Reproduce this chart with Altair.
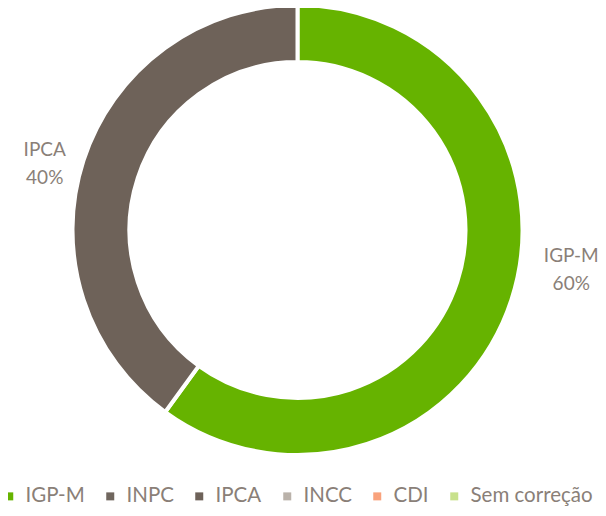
import altair as alt
import pandas as pd

categories = ["IGP-M", "INPC", "IPCA", "INCC", "CDI", "Sem correção"]
shares = [60, 0, 40, 0, 0, 0]
pct_labels = ["60%", "0%", "40%", "0%", "0%", "0%"]
colors = ["#66b300", "#70665e", "#6e6259", "#bab2aa", "#f9a27c", "#c8e18c"]

df = pd.DataFrame({"cat": categories, "share": shares, "pct": pct_labels,
                   "order": list(range(len(categories)))})

text_color = "#8a7f78"

color = alt.Color(
    "cat:N",
    scale=alt.Scale(domain=categories, range=colors),
    legend=alt.Legend(
        title=None, orient="none", legendX=-9, legendY=478,
        direction="horizontal", columns=6, columnPadding=15,
        symbolType="square", symbolSize=64, symbolStrokeWidth=0,
        labelOffset=6, labelFontSize=20.5, labelFont="Lato",
        labelColor=text_color, labelLimit=400, padding=0,
    ),
)

base = alt.Chart(df).transform_filter("datum.share > 0")

arcs = base.mark_arc(innerRadius=168, outerRadius=225, stroke="white", strokeWidth=4).encode(
    theta=alt.Theta("share:Q", stack=True),
    order=alt.Order("order:Q"),
    color=color,
)

def label_layer(name, dx, dy):
    return base.transform_calculate(
        label=f"datum.cat == '{name}' ? datum.cat + '\\n' + datum.pct : ''"
    ).mark_text(
        radius=250, dx=dx, dy=dy, lineBreak="\n", lineHeight=28,
        fontSize=19, font="Lato", color=text_color, align="center", baseline="middle",
    ).encode(
        theta=alt.Theta("share:Q", stack=True),
        order=alt.Order("order:Q"),
        text="label:N",
    )

chart = alt.layer(
    arcs,
    label_layer("IPCA", -15, -3),
    label_layer("IGP-M", 36, -51),
).properties(
    width=579, height=444,
    padding={"left": 0, "right": 11, "top": 0, "bottom": 56},
    autosize="none",
).configure_view(stroke=None)

chart.save("out.html", embed_options={"renderer": "svg", "actions": False})
